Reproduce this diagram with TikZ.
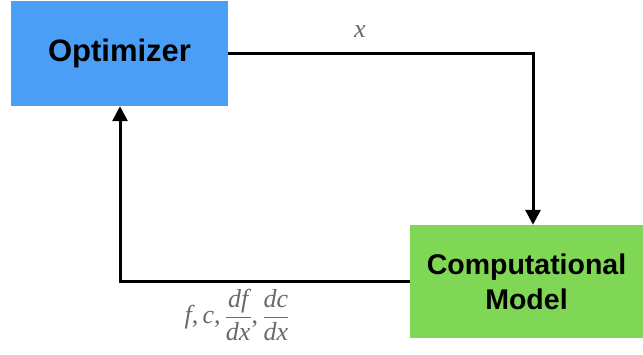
\documentclass[tikz,border=0pt]{standalone}
\usepackage{amsmath}
\usepackage{fontspec}
\setsansfont{Liberation Sans}
\setmainfont{Liberation Serif}
\usetikzlibrary{arrows.meta}
\definecolor{optblue}{RGB}{74,158,246}
\definecolor{modgreen}{RGB}{128,214,85}
\definecolor{lblgray}{RGB}{105,105,105}
\newcommand{\vi}[1]{\textit{#1}}
\begin{document}
\begin{tikzpicture}[x=1pt,y=-1pt,
  boxstyle/.style={draw=none,inner sep=0pt,font=\sffamily\bfseries\fontsize{31}{36}\selectfont,align=center},
  flow/.style={line width=3pt,-{Triangle[length=15pt,width=15pt]}},
  lbl/.style={text=lblgray,font=\fontsize{26}{30}\selectfont}]
\useasboundingbox (0,0) rectangle (643,354);
\node[boxstyle,fill=optblue,minimum width=217pt,minimum height=105pt] (opt) at (119.5,53.5) {Optimizer};
\node[boxstyle,font=\sffamily\bfseries\fontsize{28.5}{35}\selectfont,fill=modgreen,minimum width=233pt,minimum height=113pt] (mod) at (526.5,281.5) {Computational\\Model};
\coordinate (c1) at (533,53.5);
\coordinate (c2) at (120,281);
\draw[flow] (opt.east |- c1) -- (c1) -- (c1 |- mod.north);
\draw[flow] (mod.west |- c2) -- (c2) -- (c2 |- opt.south);
\node[lbl] (xl) at (360,32) {\vi{x}};
\node[lbl,inner sep=0pt] (fl) at (237,315) {$\vi{f}\text{,}\,\vi{c}\text{,}\,\dfrac{\vi{df}}{\vi{dx}}\text{,}\,\dfrac{\vi{dc}}{\vi{dx}}$};
\end{tikzpicture}
\end{document}
